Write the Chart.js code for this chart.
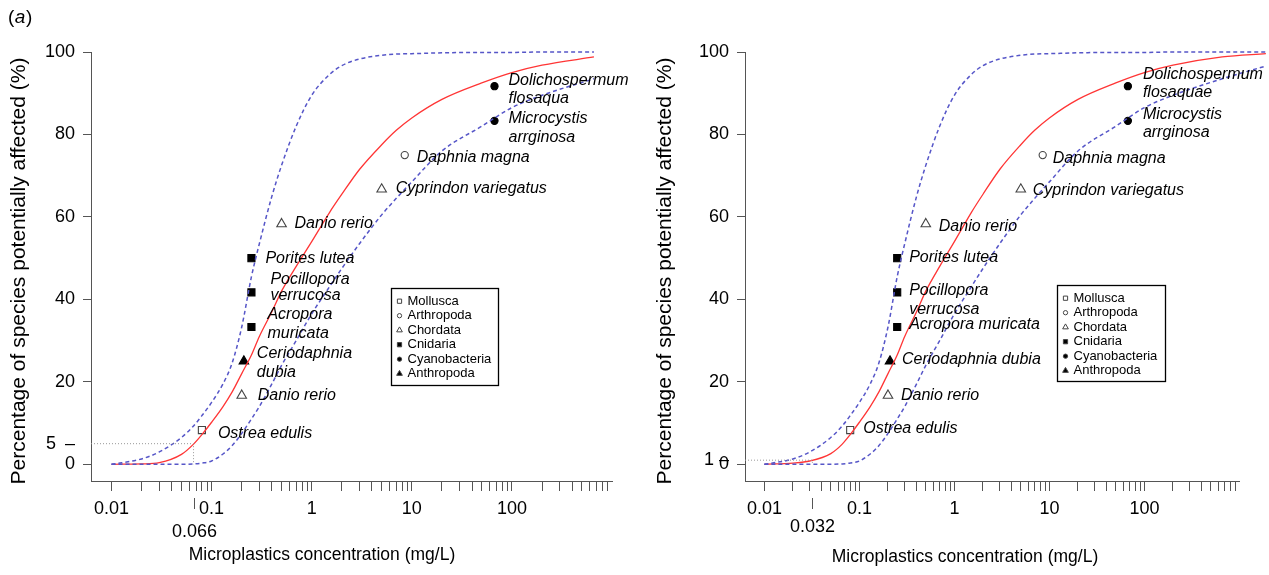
<!DOCTYPE html>
<html>
<head>
<meta charset="utf-8">
<script src="https://cdn.jsdelivr.net/npm/chart.js@4/dist/chart.umd.min.js"></script>
<style>
  body { margin: 0; background: #fff; width: 1269px; height: 575px; position: relative; overflow: hidden; }
  .panel { position: absolute; top: 0; }
</style>
</head>
<body>
<div class="panel" style="left:0"><canvas id="chart-a" width="634" height="575"></canvas></div>
<div class="panel" style="left:634px"><canvas id="chart-b" width="635" height="575"></canvas></div>
<script>
// species sensitivity data (same toxicity values in both panels)
const groups = ['Mollusca', 'Arthropoda', 'Chordata', 'Cnidaria', 'Cyanobacteria', 'Anthropoda'];
const speciesGroup = ['Mollusca', 'Chordata', 'Anthropoda', 'Cnidaria', 'Cnidaria', 'Cnidaria',
  'Chordata', 'Chordata', 'Arthropoda', 'Cyanobacteria', 'Cyanobacteria'];
const toxicity = [0.08, 0.2, 0.21, 0.25, 0.25, 0.25, 0.5, 5, 8.5, 67, 67];
const affected = [8.3, 16.7, 25, 33.3, 41.7, 50, 58.3, 66.7, 75, 83.3, 91.7];
const speciesA = [['Ostrea edulis'], ['Danio rerio'], ['Ceriodaphnia', 'dubia'], ['Acropora', 'muricata'],
  ['Pocillopora', 'verrucosa'], ['Porites lutea'], ['Danio rerio'], ['Cyprindon variegatus'],
  ['Daphnia magna'], ['Microcystis', 'arrginosa'], ['Dolichospermum', 'flosaqua']];
const speciesB = [['Ostrea edulis'], ['Danio rerio'], ['Ceriodaphnia dubia'], ['Acropora muricata'],
  ['Pocillopora', 'verrucosa'], ['Porites lutea'], ['Danio rerio'], ['Cyprindon variegatus'],
  ['Daphnia magna'], ['Microcystis', 'arrginosa'], ['Dolichospermum', 'flosaquae']];

// fitted curve and confidence band
const curveXA = [0.01, 0.02, 0.03, 0.05, 0.066, 0.08, 0.1, 0.13, 0.16, 0.2, 0.25, 0.3, 0.4, 0.5, 0.7,
  1, 1.5, 2, 3, 5, 7, 10, 20, 50, 100, 200, 660];
const fitA = [0, 0.1, 0.4, 2.4, 4.9, 7.2, 10.2, 14, 17.5, 22, 26.5, 31, 37, 42, 48,
  54, 61, 65.5, 71.5, 77.5, 81, 84, 88.5, 92.5, 95, 96.8, 98.8];
const upperA = [0, 1.3, 3, 6.5, 9.3, 11.8, 15, 19.5, 24.5, 33.3, 45.5, 53.5, 65, 72.5, 82,
  89.5, 94.5, 96.7, 98.3, 99.2, 99.5, 99.6, 99.8, 99.9, 99.9, 100, 100];
const lowerA = [0, 0, 0, 0, 0.1, 0.3, 0.8, 2.5, 4.5, 7.5, 11, 14, 19.5, 24, 30,
  36.5, 43, 47.5, 53.5, 60.5, 64.5, 68.5, 76, 82, 86.5, 89.5, 93.5];

const curveXB = [0.01, 0.02, 0.03, 0.05, 0.066, 0.08, 0.1, 0.13, 0.16, 0.2, 0.25, 0.3, 0.4, 0.5, 0.7,
  1, 1.5, 2, 3, 5, 7, 10, 20, 50, 100, 200, 660, 1900];
const fitB = [0, 0.3, 0.8, 2.6, 4.9, 7.2, 10.2, 14, 17.5, 22, 26.5, 31, 37, 42, 48,
  54, 61, 65.5, 71.5, 77.5, 81, 84, 88.5, 92.5, 95, 96.8, 98.8, 99.6];
const upperB = [0, 1.3, 3, 6.5, 9.3, 11.8, 15, 19.5, 24.5, 33.3, 45.5, 53.5, 65, 72.5, 82,
  89.5, 94.5, 96.7, 98.3, 99.2, 99.5, 99.6, 99.8, 99.9, 99.9, 100, 100, 100];
const lowerB = [0, 0, 0, 0, 0.1, 0.3, 0.8, 2.5, 4.5, 7.5, 11, 14, 19.5, 24, 30,
  36.5, 43, 47.5, 53.5, 60.5, 64.5, 68.5, 76, 82, 86.5, 89.5, 93.5, 96.6];

// hazardous concentrations marked on each panel
const hcA = { value: 0.066, level: 5 };
const hcB = { value: 0.032, level: 1 };

// axis ticks
const xTickLabels = ['0.01', '0.1', '1', '10', '100'];
const yTicks = [0, 20, 40, 60, 80, 100];

const FONT = '"Liberation Sans", Arial, sans-serif';
const RED = '#ff3535';
const BLUE = '#5656c8';

const groupStyle = {
  Mollusca:      { pointStyle: 'rect',     fill: false, radius: 5 },
  Arthropoda:    { pointStyle: 'circle',   fill: false, radius: 3.6 },
  Chordata:      { pointStyle: 'triangle', fill: false, radius: 5.5 },
  Cnidaria:      { pointStyle: 'rect',     fill: true,  radius: 5 },
  Cyanobacteria: { pointStyle: 'circle',   fill: true,  radius: 3.6 },
  Anthropoda:    { pointStyle: 'triangle', fill: true,  radius: 5.5 }
};

function minorTicks() {
  const t = [];
  for (let e = -2; e <= 2; e++) for (let m = 1; m <= 9; m++) t.push(+(m * Math.pow(10, e)).toPrecision(3));
  return t;
}

function drawExtras(chart, cfg) {
  const ctx = chart.ctx, xs = chart.scales.x, ys = chart.scales.y;
  ctx.save();
  ctx.fillStyle = '#000';
  ctx.textBaseline = 'middle';

  // panel letter
  ctx.textAlign = 'left';
  let lx = cfg.letterX;
  ctx.font = '19px ' + FONT;
  ctx.fillText('(', lx, 18); lx += ctx.measureText('(').width + 0.5;
  ctx.font = 'italic 19px ' + FONT;
  ctx.fillText(cfg.letter, lx, 18); lx += ctx.measureText(cfg.letter).width + 0.5;
  ctx.font = '19px ' + FONT;
  ctx.fillText(')', lx, 18);

  // axis titles
  ctx.textAlign = 'center';
  ctx.font = '17.5px ' + FONT;
  ctx.fillText('Microplastics concentration (mg/L)', cfg.xTitleX, cfg.xTitleY);
  ctx.save();
  ctx.font = '21px ' + FONT;
  ctx.translate(cfg.yTitleX, cfg.yTitleY);
  ctx.rotate(-Math.PI / 2);
  ctx.fillText('Percentage of species potentially affected (%)', 0, 0);
  ctx.restore();

  // species names
  ctx.font = 'italic 16px ' + FONT;
  ctx.textAlign = 'left';
  cfg.names.forEach((lines, i) => {
    const px = xs.getPixelForValue(toxicity[i]);
    const py = ys.getPixelForValue(affected[i]);
    const o = cfg.nameOffsets[i];
    lines.forEach((t, j) => ctx.fillText(t, px + o[0], py + o[1] + j * o[2]));
  });

  // hazardous concentration mark under the axis
  const hx = Math.round(xs.getPixelForValue(cfg.hc.value)) + 0.5;
  ctx.strokeStyle = '#555';
  ctx.lineWidth = 1;
  ctx.beginPath();
  ctx.moveTo(hx, 498);
  ctx.lineTo(hx, 509);
  ctx.stroke();
  ctx.font = '18px ' + FONT;
  ctx.textAlign = 'center';
  ctx.fillText(String(cfg.hc.value), hx, cfg.hcLabelY);

  // legend
  const lg = cfg.legend;
  ctx.strokeStyle = '#000';
  ctx.lineWidth = 1.3;
  ctx.strokeRect(lg.x, lg.y, lg.w, lg.h);
  ctx.font = '13px ' + FONT;
  ctx.textAlign = 'left';
  groups.forEach((g, i) => {
    const st = groupStyle[g];
    const yy = lg.y + 12.7 + i * 14.5;
    ctx.fillStyle = st.fill ? '#000' : '#fff';
    ctx.strokeStyle = '#444';
    ctx.lineWidth = 1;
    Chart.helpers.drawPoint(ctx, { pointStyle: st.pointStyle, radius: st.radius * 0.6, rotation: 0, borderWidth: 1 }, lg.x + 8, yy);
    ctx.fillStyle = '#000';
    ctx.fillText(g, lg.x + 16, yy);
  });
  ctx.restore();
}

function makeChart(id, cfg) {
  const datasets = [];
  datasets.push({
    type: 'line', label: 'hc', data: [{ x: cfg.xMin, y: cfg.hc.level }, { x: cfg.hc.value, y: cfg.hc.level }, { x: cfg.hc.value, y: 0 }],
    borderColor: '#999', borderWidth: 1, borderDash: [1, 2], pointRadius: 0, tension: 0
  });
  [[cfg.upper, BLUE, [4, 3], 1.5], [cfg.lower, BLUE, [4, 3], 1.5], [cfg.fit, RED, [], 1.3]].forEach(([arr, col, dash, w]) => {
    datasets.push({
      type: 'line', data: cfg.curveX.map((x, i) => ({ x, y: arr[i] })),
      borderColor: col, borderDash: dash, borderWidth: w, pointRadius: 0,
      cubicInterpolationMode: 'monotone', clip: false
    });
  });
  groups.forEach(g => {
    const st = groupStyle[g];
    datasets.push({
      type: 'scatter', label: g,
      data: toxicity.map((x, i) => ({ x, y: affected[i], g: speciesGroup[i] })).filter(p => p.g === g),
      pointStyle: st.pointStyle, pointRadius: st.radius, pointBorderWidth: 1.1,
      pointBackgroundColor: st.fill ? '#000' : 'rgba(0,0,0,0)', pointBorderColor: st.fill ? '#000' : '#444'
    });
  });

  return new Chart(document.getElementById(id), {
    data: { datasets },
    options: {
      responsive: false,
      animation: false,
      events: [],
      layout: { padding: { left: 0, top: cfg.top, right: cfg.padRight, bottom: 0 } },
      plugins: { legend: { display: false }, tooltip: { enabled: false } },
      scales: {
        x: {
          type: 'logarithmic', min: cfg.xMin, max: 1000,
          afterBuildTicks: s => { s.ticks = minorTicks().map(v => ({ value: v })); },
          afterFit: s => { s.height = 575 - cfg.bottom; },
          ticks: {
            autoSkip: false, maxRotation: 0, padding: 7, color: '#000',
            font: { family: FONT, size: 18 },
            callback: v => { const t = String(+v.toPrecision(3)); return xTickLabels.includes(t) ? t : ''; }
          },
          grid: { drawOnChartArea: false, tickLength: 10, color: '#555', tickWidth: 1 },
          border: { display: true, color: '#555', width: 1 }
        },
        y: {
          type: 'linear', min: -4.05, max: 100,
          afterBuildTicks: s => { s.ticks = yTicks.concat([cfg.hc.level]).map(v => ({ value: v })); },
          afterFit: s => { s.width = cfg.left; },
          ticks: {
            autoSkip: false, padding: 8, color: '#000',
            font: { family: FONT, size: 18 },
            callback: v => v === cfg.hc.level ? v + cfg.hcSep + '\u2013' : String(v)
          },
          grid: {
            drawOnChartArea: false, tickLength: 8,
            tickColor: c => c.tick && c.tick.value === cfg.hc.level ? 'rgba(0,0,0,0)' : '#555'
          },
          border: { display: true, color: '#555', width: 1 }
        }
      }
    },
    plugins: [{ id: 'extras', afterDatasetsDraw: chart => drawExtras(chart, cfg) }]
  });
}

makeChart('chart-a', {
  letter: 'a', letterX: 8,
  curveX: curveXA, fit: fitA, upper: upperA, lower: lowerA, hc: hcA, hcLabelY: 532, hcSep: '\u2002',
  xMin: 0.00624, left: 91, padRight: 22, top: 52, bottom: 481,
  xTitleX: 322, xTitleY: 555, yTitleX: 19, yTitleY: 271,
  names: speciesA,
  nameOffsets: [[16, 3, 19], [16, 0, 19], [13, -8, 19.4], [16, -12, 19], [19, -13, 16], [14, 0, 19],
    [13, 0, 19], [14, -1, 19], [12, 2, 19], [14, -2, 19], [14, -6, 18.5]],
  legend: { x: 391.5, y: 288.5, w: 107, h: 97 }
});

makeChart('chart-b', {
  letter: 'b', letterX: 651,
  curveX: curveXB, fit: fitB, upper: upperB, lower: lowerB, hc: hcB, hcLabelY: 527, hcSep: ' ',
  xMin: 0.00625, left: 111, padRight: 29.6, top: 52, bottom: 481,
  xTitleX: 331, xTitleY: 557, yTitleX: 31, yTitleY: 271,
  names: speciesB,
  nameOffsets: [[13, -2, 19], [13, 0, 19], [12, -2, 19], [12, -2, 19], [12, -2, 19], [12, -1, 19],
    [13, 3, 19], [12, 1, 19], [10, 3, 19], [15, -6, 18], [15, -12, 18]],
  legend: { x: 423.5, y: 285.5, w: 108, h: 96 }
});
</script>
</body>
</html>
